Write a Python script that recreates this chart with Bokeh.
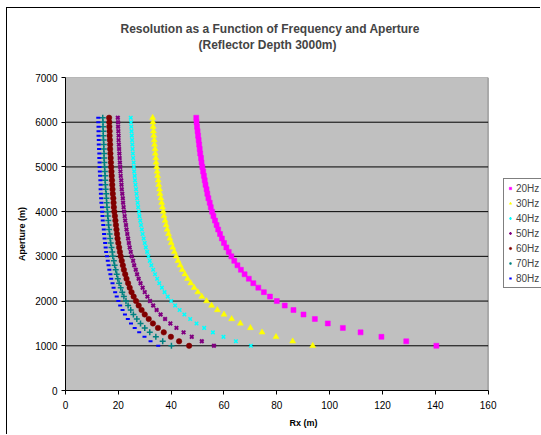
from bokeh.plotting import figure
from bokeh.models import Range1d, FixedTicker, Title, Legend
from bokeh.embed import file_html
from bokeh.resources import INLINE

aperture = [1000, 1100, 1200, 1300, 1400, 1500, 1600, 1700, 1800, 1900,
            2000, 2100, 2200, 2300, 2400, 2500, 2600, 2700, 2800, 2900,
            3000, 3100, 3200, 3300, 3400, 3500, 3600, 3700, 3800, 3900,
            4000, 4100, 4200, 4300, 4400, 4500, 4600, 4700, 4800, 4900,
            5000, 5100, 5200, 5300, 5400, 5500, 5600, 5700, 5800, 5900,
            6000, 6100]

rx_20hz = [140.4, 129.0, 119.6, 111.7, 105.0, 99.3, 94.4, 90.1, 86.3, 83.0,
           80.0, 77.4, 75.1, 73.0, 71.1, 69.4, 67.8, 66.4, 65.1, 63.9,
           62.8, 61.8, 60.9, 60.0, 59.2, 58.5, 57.8, 57.2, 56.6, 56.0,
           55.5, 55.0, 54.6, 54.1, 53.7, 53.4, 53.0, 52.7, 52.4, 52.1,
           51.8, 51.5, 51.3, 51.0, 50.8, 50.6, 50.4, 50.2, 50.0, 49.8,
           49.6, 49.5]
rx_30hz = [93.6, 86.0, 79.7, 74.4, 70.0, 66.2, 62.9, 60.0, 57.5, 55.3,
           53.4, 51.6, 50.1, 48.7, 47.4, 46.2, 45.2, 44.2, 43.4, 42.6,
           41.9, 41.2, 40.6, 40.0, 39.5, 39.0, 38.5, 38.1, 37.7, 37.3,
           37.0, 36.7, 36.4, 36.1, 35.8, 35.6, 35.3, 35.1, 34.9, 34.7,
           34.5, 34.3, 34.2, 34.0, 33.9, 33.7, 33.6, 33.4, 33.3, 33.2,
           33.1, 33.0]
rx_40hz = [70.2, 64.5, 59.8, 55.8, 52.5, 49.6, 47.2, 45.0, 43.2, 41.5,
           40.0, 38.7, 37.5, 36.5, 35.5, 34.7, 33.9, 33.2, 32.5, 31.9,
           31.4, 30.9, 30.4, 30.0, 29.6, 29.2, 28.9, 28.6, 28.3, 28.0,
           27.8, 27.5, 27.3, 27.1, 26.9, 26.7, 26.5, 26.3, 26.2, 26.0,
           25.9, 25.8, 25.6, 25.5, 25.4, 25.3, 25.2, 25.1, 25.0, 24.9,
           24.8, 24.7]
rx_50hz = [56.2, 51.6, 47.8, 44.7, 42.0, 39.7, 37.7, 36.0, 34.5, 33.2,
           32.0, 31.0, 30.0, 29.2, 28.4, 27.7, 27.1, 26.6, 26.0, 25.6,
           25.1, 24.7, 24.3, 24.0, 23.7, 23.4, 23.1, 22.9, 22.6, 22.4,
           22.2, 22.0, 21.8, 21.7, 21.5, 21.3, 21.2, 21.1, 20.9, 20.8,
           20.7, 20.6, 20.5, 20.4, 20.3, 20.2, 20.1, 20.1, 20.0, 19.9,
           19.9, 19.8]
rx_60hz = [46.8, 43.0, 39.9, 37.2, 35.0, 33.1, 31.5, 30.0, 28.8, 27.7,
           26.7, 25.8, 25.0, 24.3, 23.7, 23.1, 22.6, 22.1, 21.7, 21.3,
           20.9, 20.6, 20.3, 20.0, 19.7, 19.5, 19.3, 19.1, 18.9, 18.7,
           18.5, 18.3, 18.2, 18.1, 17.9, 17.8, 17.7, 17.6, 17.5, 17.4,
           17.3, 17.2, 17.1, 17.0, 16.9, 16.9, 16.8, 16.7, 16.7, 16.6,
           16.6, 16.5]
rx_70hz = [40.1, 36.8, 34.2, 31.9, 30.0, 28.4, 27.0, 25.7, 24.7, 23.7,
           22.9, 22.1, 21.5, 20.9, 20.3, 19.8, 19.4, 19.0, 18.6, 18.3,
           17.9, 17.7, 17.4, 17.1, 16.9, 16.7, 16.5, 16.3, 16.2, 16.0,
           15.9, 15.7, 15.6, 15.5, 15.4, 15.2, 15.1, 15.0, 15.0, 14.9,
           14.8, 14.7, 14.6, 14.6, 14.5, 14.5, 14.4, 14.3, 14.3, 14.2,
           14.2, 14.1]
rx_80hz = [35.1, 32.2, 29.9, 27.9, 26.2, 24.8, 23.6, 22.5, 21.6, 20.7,
           20.0, 19.4, 18.8, 18.2, 17.8, 17.3, 17.0, 16.6, 16.3, 16.0,
           15.7, 15.4, 15.2, 15.0, 14.8, 14.6, 14.5, 14.3, 14.1, 14.0,
           13.9, 13.8, 13.6, 13.5, 13.4, 13.3, 13.3, 13.2, 13.1, 13.0,
           12.9, 12.9, 12.8, 12.8, 12.7, 12.6, 12.6, 12.5, 12.5, 12.5,
           12.4, 12.4]

series_names = ["20Hz", "30Hz", "40Hz", "50Hz", "60Hz", "70Hz", "80Hz"]
series_values = [rx_20hz, rx_30hz, rx_40hz, rx_50hz, rx_60hz, rx_70hz, rx_80hz]
x_ticks = [0, 20, 40, 60, 80, 100, 120, 140, 160]
y_ticks = [0, 1000, 2000, 3000, 4000, 5000, 6000, 7000]
x_min, x_max = 0, 160
y_min, y_max = 0, 7000

title_line1 = "Resolution as a Function of Frequency and Aperture"
title_line2 = "(Reflector Depth 3000m)"

FONT = "Liberation Sans"

styles_marker = [
    dict(marker="square", size=5, fill_color="#FF00FF", line_color="#FF00FF", line_width=0.5),
    dict(marker="triangle", size=6, fill_color="#FFFF00", line_color="#FFFF00", line_width=0.5),
    dict(marker="x", size=5, fill_color="#00FFFF", line_color="#00FFFF", line_width=1.5),
    dict(marker="x", size=5, fill_color="#800080", line_color="#800080", line_width=2),
    dict(marker="circle", size=5.5, fill_color="#800000", line_color="#800000", line_width=0.5),
    dict(marker="cross", size=6, fill_color="#008080", line_color="#008080", line_width=1.5),
    dict(marker="dash", size=4, fill_color="#0000FF", line_color="#0000FF", line_width=2),
]

# frame spans to the right edge so the legend can sit beside the plot area;
# the grey plot area itself covers only x_min..x_max
p = figure(width=534, height=427, output_backend="svg", toolbar_location=None,
           x_range=Range1d(0, 180.2), y_range=Range1d(y_min, y_max),
           min_border_left=58, min_border_top=69, min_border_right=0,
           min_border_bottom=45)
p.styles = {"margin-left": "6px", "margin-top": "7px",
            "border-left": "1px solid black", "border-top": "1px solid black"}

p.background_fill_color = "white"
p.border_fill_color = "white"
p.outline_line_color = None
p.xgrid.visible = False
p.ygrid.visible = False

# plot area
p.quad(left=[x_min], right=[x_max], bottom=[y_min], top=[y_max],
       fill_color="#C0C0C0", line_color="#808080", line_width=1, level="underlay")
# horizontal gridlines
grid_y = y_ticks[1:-1]
p.segment(x0=[x_min] * len(grid_y), x1=[x_max] * len(grid_y), y0=grid_y, y1=grid_y,
          line_color="black", line_width=1, level="underlay")

p.xaxis.ticker = FixedTicker(ticks=x_ticks)
p.yaxis.ticker = FixedTicker(ticks=y_ticks)
p.xaxis.bounds = (x_min, x_max)
for ax in (p.xaxis[0], p.yaxis[0]):
    ax.axis_line_color = "black"
    ax.major_tick_line_color = "black"
    ax.major_tick_out = 4
    ax.major_tick_in = 0
    ax.minor_tick_line_color = None
    ax.major_label_text_font = FONT
    ax.major_label_text_font_size = "10px"
    ax.major_label_text_color = "black"
    ax.axis_label_text_font = FONT
    ax.axis_label_text_font_size = "9px"
    ax.axis_label_text_font_style = "bold"
    ax.axis_label_text_color = "black"
p.xaxis.axis_label = "Rx (m)"
p.yaxis.axis_label = "Aperture (m)"
p.xaxis.major_label_standoff = 6
p.yaxis.major_label_standoff = 4
p.xaxis.axis_label_standoff = 6
p.yaxis.axis_label_standoff = 5

items = []
for name, vals, st in zip(series_names, series_values, styles_marker):
    r = p.scatter(vals, aperture, **st)
    items.append((name, [r]))

legend = Legend(items=items, location=(438, 102))
legend.label_text_font = FONT
legend.label_text_font_size = "10px"
legend.label_height = 12
legend.glyph_height = 12
legend.glyph_width = 6
legend.spacing = 3
legend.padding = 3
legend.margin = 0
legend.label_standoff = 3
legend.border_line_color = "black"
legend.border_line_width = 1
legend.background_fill_color = "white"
legend.background_fill_alpha = 1
p.add_layout(legend, "center")

# the x centre of the plot area is not the frame centre, so titles are left-aligned with offsets
spacer = Title(text=" ", text_font=FONT, text_font_size="10px", standoff=13)
t2 = Title(text=title_line2, align="left", text_font=FONT, text_font_size="12px",
           text_font_style="bold", standoff=0, offset=133)
t1 = Title(text=title_line1, align="left", text_font=FONT, text_font_size="12px",
           text_font_style="bold", standoff=0, offset=55)
p.title.visible = False
p.add_layout(spacer, "above")
p.add_layout(t2, "above")
p.add_layout(t1, "above")

open("out.html", "w").write(file_html(p, INLINE))
